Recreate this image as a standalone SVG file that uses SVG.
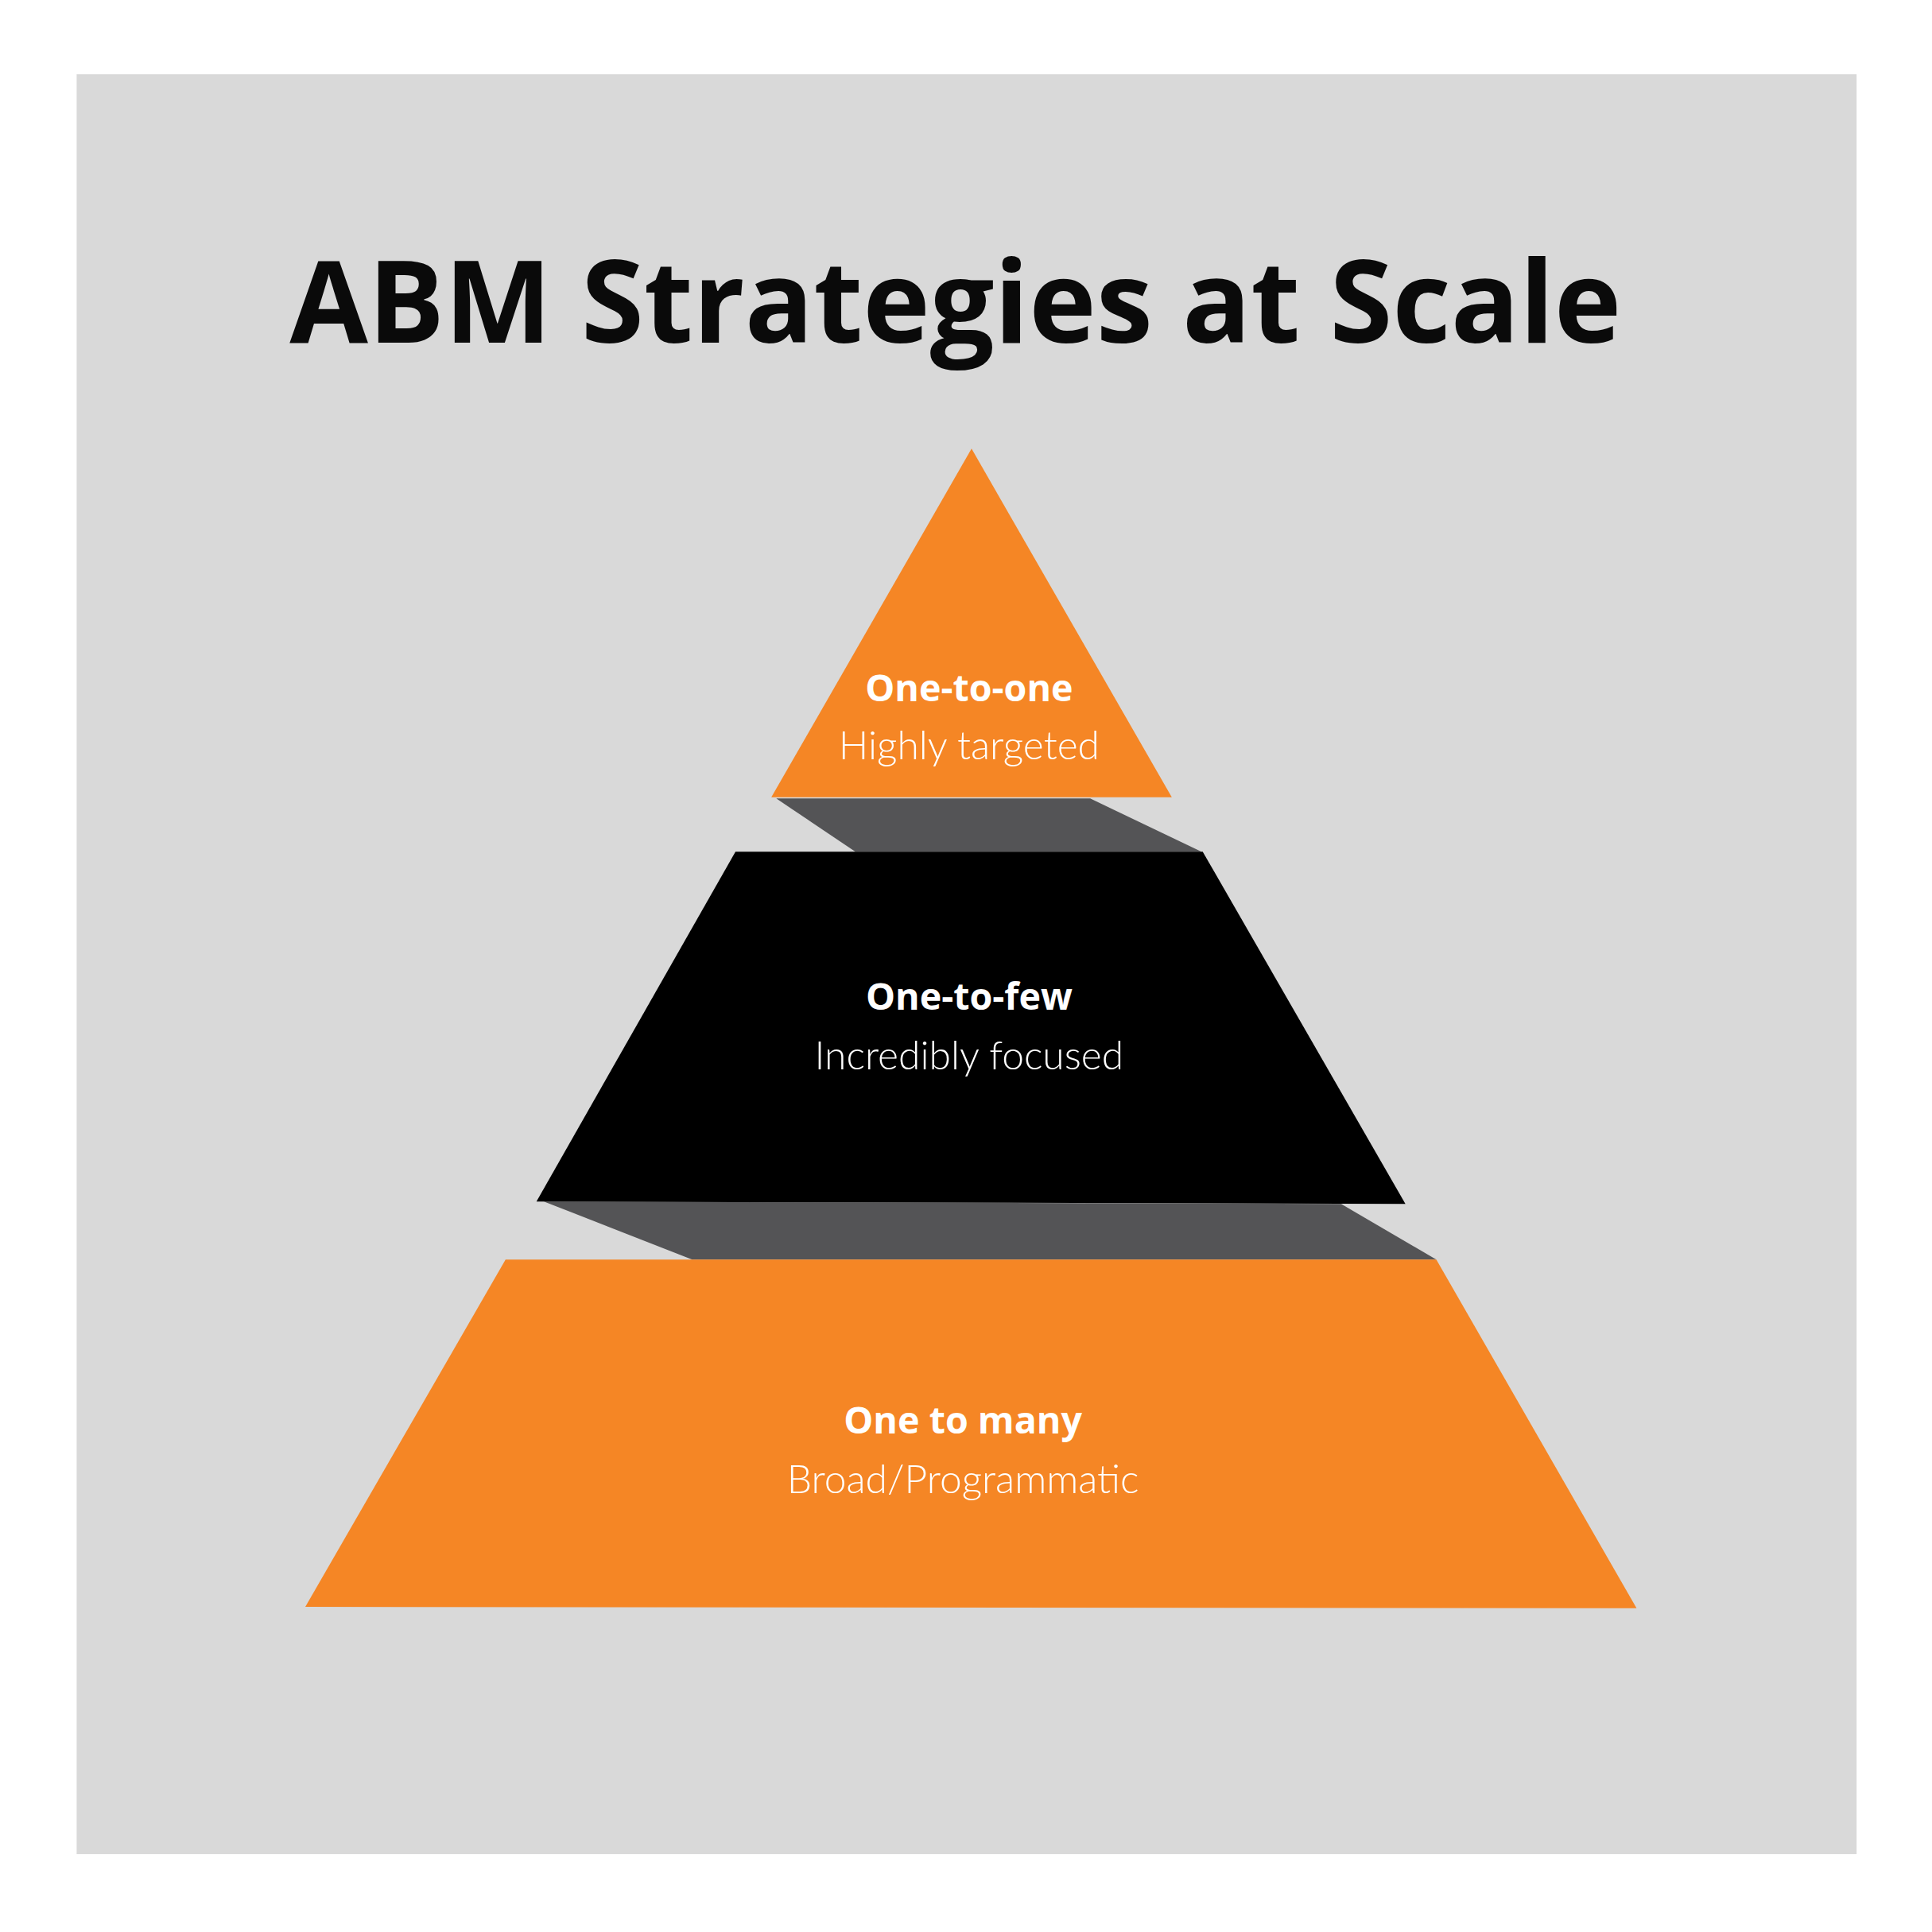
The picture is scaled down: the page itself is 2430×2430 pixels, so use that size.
<svg xmlns="http://www.w3.org/2000/svg" width="2430" height="2430" viewBox="0 0 2430 2430">
<style>
.h{font-family:"Open Sans","Liberation Sans",sans-serif;font-weight:700;fill:#fff;text-anchor:middle;font-size:30px}
.s{font-family:Lato,"Liberation Sans",sans-serif;font-weight:300;fill:#fff;text-anchor:middle;font-size:32px}
</style>
<rect width="2430" height="2430" fill="#fff"/>
<g transform="scale(1.5547)">
<rect x="62" y="60" width="1440" height="1440" fill="#d9d9d9"/>
<text x="773" y="277" font-family="'Open Sans','Liberation Sans',sans-serif" font-weight="700" font-size="92" text-anchor="middle" fill="#0a0a0a">ABM Strategies at Scale</text>
<g id="connectors" fill="#545456">
<polygon points="628,646 882,646 972,689 692,689"/>
<polygon points="440,972 1085,974 1162,1019 560,1019"/>
</g>
<g id="top"><polygon points="786,363 948,645 624,645" fill="#f58625"/>
<text class="h" x="784" y="567">One-to-one</text><text class="s" x="784" y="614">Highly targeted</text></g>
<g id="middle"><polygon points="595,689 973,689 1137,974 434,972" fill="#000"/>
<text class="h" x="784" y="817">One-to-few</text><text class="s" x="784" y="865">Incredibly focused</text></g>
<g id="bottom"><polygon points="409,1019 1162,1019 1324,1301 247,1300" fill="#f58625"/>
<text class="h" x="779" y="1160">One to many</text><text class="s" x="779" y="1208">Broad/Programmatic</text></g>
</g>
</svg>
